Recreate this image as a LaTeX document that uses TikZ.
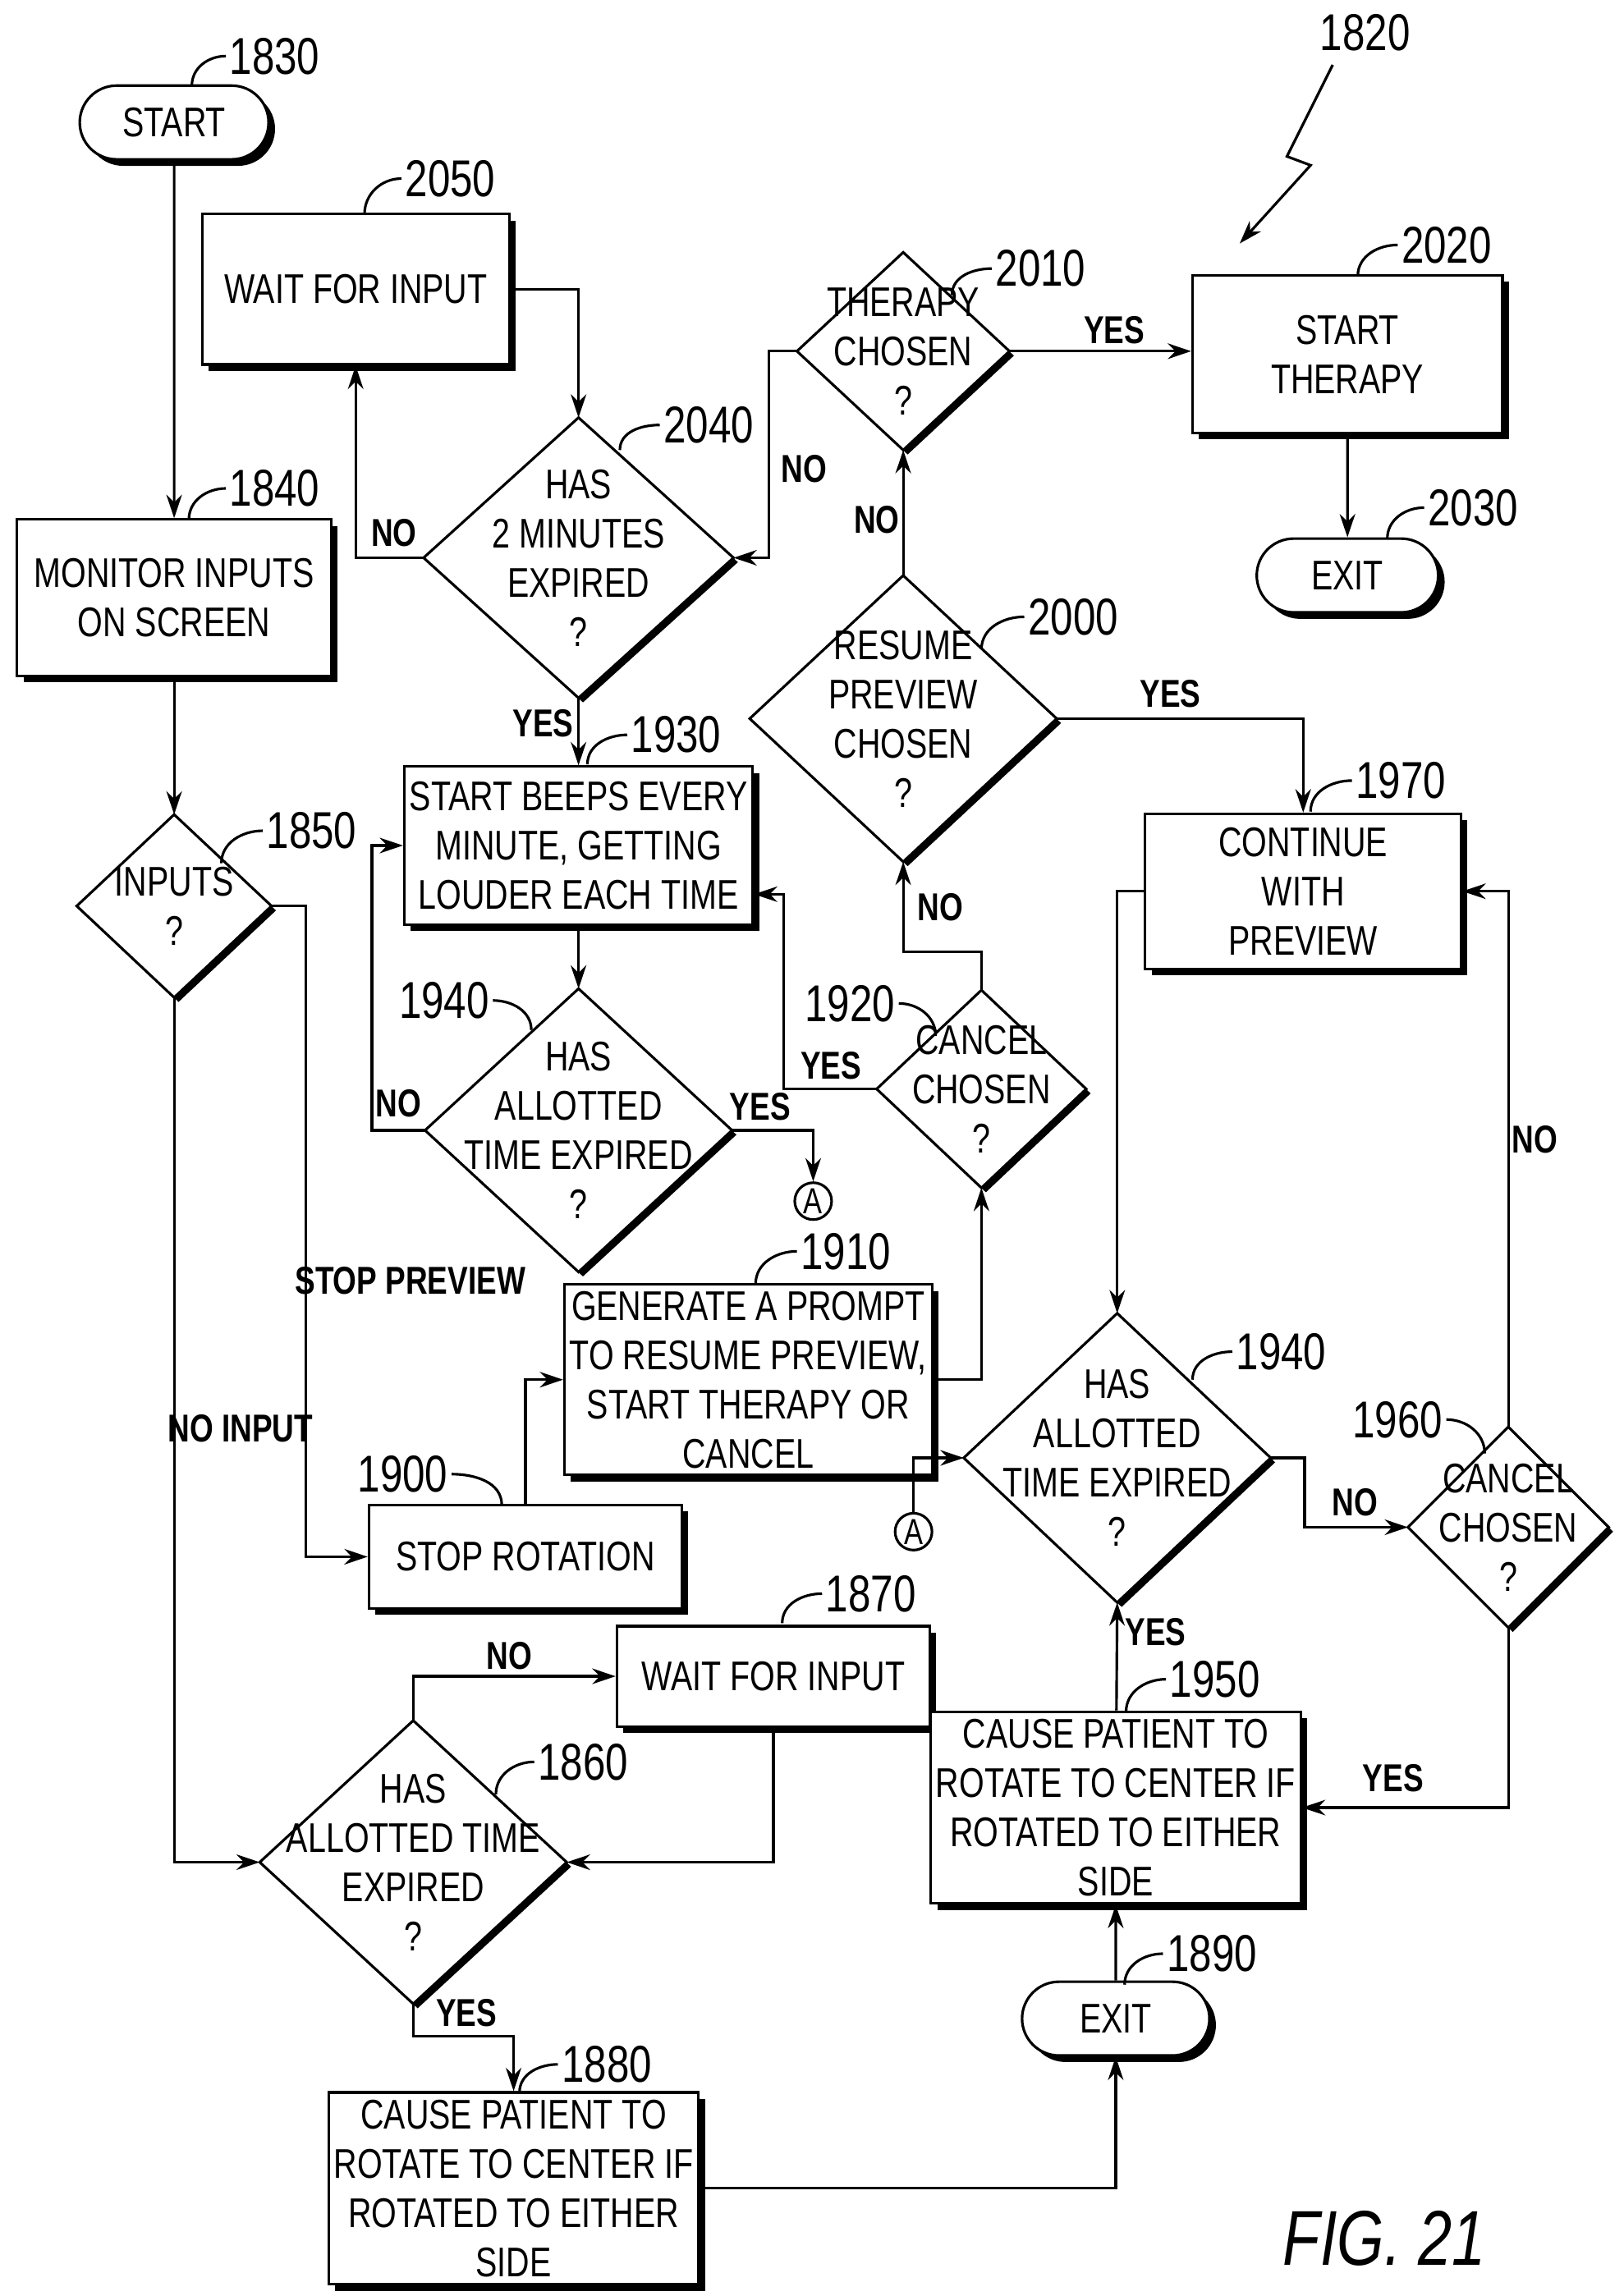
\documentclass[tikz,border=0pt]{standalone}
\usepackage{fontspec}
\setmainfont{Liberation Sans}[FakeStretch=0.78]
\usetikzlibrary{arrows.meta,shapes.misc,shadows,positioning}

\tikzset{
  every picture/.style={x=0.02cm,y=-0.02cm,line width=1pt},
  flow/.style={-{Stealth[length=9pt,width=6pt]}},
  box/.style={draw,fill=white,drop shadow={opacity=1,fill=black,shadow xshift=2.5pt,shadow yshift=-2.5pt},
    align=center,font=\fontsize{16}{19}\selectfont,inner sep=2pt},
  term/.style={box,rounded rectangle},
  txt/.style={font=\fontsize{16}{19}\selectfont,align=center},
  yn/.style={font=\bfseries\fontsize{15}{18}\selectfont},
  refnum/.style={font=\fontsize{20}{24}\selectfont,inner sep=1pt},
  conn/.style={draw,circle,inner sep=0pt,minimum size=0.5cm,font=\fontsize{14}{16}\selectfont}
}
% box: name, x, y, width, height, text
\newcommand\bx[6]{\node[box,minimum width={#4*0.02cm},minimum height={#5*0.02cm}] (#1) at (#2,#3) {#6};}
% diamond: name, x, y, half width, half height, text
\newcommand\dia[6]{%
  \fill ({#2+3},{#3-#5+3}) -- ({#2+#4+3},{#3+3}) -- ({#2+3},{#3+#5+3}) -- ({#2-#4+3},{#3+3}) -- cycle;
  \filldraw[fill=white] (#2,{#3-#5}) -- ({#2+#4},#3) -- (#2,{#3+#5}) -- ({#2-#4},#3) -- cycle;
  \coordinate (#1-n) at (#2,{#3-#5});
  \coordinate (#1-s) at (#2,{#3+#5});
  \coordinate (#1-e) at ({#2+#4},#3);
  \coordinate (#1-w) at ({#2-#4},#3);
  \node[txt] (#1) at (#2,#3) {#6};}
% reference number with curved leader: from, to, text
\newcommand\refup[3]{\draw (#1) to[out=90,in=180] (#2) node[refnum,anchor=west] {#3};}
\newcommand\refdown[3]{\draw (#2) to[out=0,in=90] (#1); \node[refnum,anchor=east] at (#2) {#3};}

\begin{document}
\begin{tikzpicture}
\useasboundingbox (0,0) rectangle (1100,1556);

% terminals and boxes
\node[term,minimum width=2.7cm,minimum height=1cm] (start) at (118,83) {START};
\bx{wait1}{241}{196}{208}{102}{WAIT FOR INPUT}
\bx{therapy}{913}{240}{210}{107}{START\\THERAPY}
\node[term,minimum width=2.6cm,minimum height=1cm] (exit1) at (913,390) {EXIT};
\bx{monitor}{118}{405}{213}{106}{MONITOR INPUTS\\ON SCREEN}
\bx{beeps}{392}{573}{212}{107}{START BEEPS EVERY\\MINUTE, GETTING\\LOUDER EACH TIME}
\bx{cont}{883}{604}{214}{105}{CONTINUE\\WITH\\PREVIEW}
\bx{prompt}{507}{935}{213}{129}{GENERATE A PROMPT\\TO RESUME PREVIEW,\\START THERAPY OR\\CANCEL}
\bx{stoprot}{356}{1055}{212}{70}{STOP ROTATION}
\bx{wait2}{524}{1136}{212}{68}{WAIT FOR INPUT}
\bx{cause1}{756}{1225}{211}{130}{CAUSE PATIENT TO\\ROTATE TO CENTER IF\\ROTATED TO EITHER\\SIDE}
\node[term,minimum width=2.68cm,minimum height=1cm] (exit2) at (756,1368) {EXIT};
\bx{cause2}{348}{1483}{220}{130}{CAUSE PATIENT TO\\ROTATE TO CENTER IF\\ROTATED TO EITHER\\SIDE}

% decisions
\dia{q2040}{392}{378}{105}{95}{HAS\\2 MINUTES\\EXPIRED\\?}
\dia{q2010}{612}{238}{72}{67}{THERAPY\\CHOSEN\\?}
\dia{q2000}{612}{487}{104}{97}{RESUME\\PREVIEW\\CHOSEN\\?}
\dia{q1850}{118}{614}{66}{62}{INPUTS\\?}
\dia{q1940a}{392}{766}{104}{96}{HAS\\ALLOTTED\\TIME EXPIRED\\?}
\dia{q1920}{665}{738}{71}{67}{CANCEL\\CHOSEN\\?}
\dia{q1940b}{757}{988}{104}{98}{HAS\\ALLOTTED\\TIME EXPIRED\\?}
\dia{q1960}{1022}{1035}{68}{68}{CANCEL\\CHOSEN\\?}
\dia{q1860}{280}{1262}{104}{96}{HAS\\ALLOTTED TIME\\EXPIRED\\?}

\node[conn] (a1) at (551,814) {A};
\node[conn] (a2) at (619,1038) {A};

% connectors
\draw[flow] (start) -- (monitor);
\draw[flow] (monitor) -- (q1850-n);
\draw[flow] (q1850-e) -| (207,900) |- (stoprot.west);
\draw[flow] (q1850-s) |- (q1860-w);
\draw[flow] (stoprot.north) |- (prompt.west);
\draw[flow] (prompt.east) -| (q1920-s);
\draw[flow] (q1920-n) -- (665,645) -| (q2000-s);
\draw[flow] (q1920-w) -| (531,650) |- (beeps.east |- 0,606);
\draw[flow] (q2000-n) -- (q2010-s);
\draw[flow] (q2000-e) -| (cont.north);
\draw[flow] (q2010-e) -- (therapy.west |- q2010-e);
\draw[flow] (q2010-w) -| (521,300) |- (q2040-e);
\draw[flow] (wait1.east |- 0,196) -| (q2040-n);
\draw[flow] (q2040-w) -| (wait1.south);
\draw[flow] (q2040-s) -- (beeps.north);
\draw[flow] (therapy) -- (exit1);
\draw[flow] (beeps) -- (q1940a-n);
\draw[flow] (q1940a-w) -| (252,650) |- (beeps.west);
\draw[flow] (q1940a-e) -| (a1);
\draw[flow] (a2) |- (q1940b-w);
\draw[flow] (q1940b-e) -| (884,1010) |- (q1960-w);
\draw[flow] (q1960-n) |- (cont.east);
\draw[flow] (q1960-s) |- (cause1.east);
\draw[flow] (cont.west) -| (q1940b-n);
\draw[flow] (cause1) -- (q1940b-s);
\draw[flow] (exit2) -- (cause1);
\draw[flow] (cause2.east) -| (exit2.south);
\draw[flow] (q1860-s) -- (280,1380) -| (cause2.north);
\draw[flow] (q1860-n) |- (wait2.west);
\draw[flow] (wait2.south) |- (q1860-e);

% branch labels
\node[yn] at (278,868) {STOP PREVIEW};
\node[yn] at (163,968) {NO INPUT};
\node[yn] at (563,722) {YES};
\node[yn] at (637,615) {NO};
\node[yn] at (594,352) {NO};
\node[yn] at (793,470) {YES};
\node[yn] at (755,224) {YES};
\node[yn] at (545,318) {NO};
\node[yn] at (267,361) {NO};
\node[yn] at (368,490) {YES};
\node[yn] at (270,748) {NO};
\node[yn] at (515,750) {YES};
\node[yn] at (918,1018) {NO};
\node[yn] at (1040,772) {NO};
\node[yn] at (944,1205) {YES};
\node[yn] at (783,1106) {YES};
\node[yn] at (316,1364) {YES};
\node[yn] at (345,1122) {NO};

% reference numbers
\refup{130,58}{153,38}{1830}
\refup{247,145}{272,121}{2050}
\refup{420,305}{447,288}{2040}
\refup{645,200}{672,182}{2010}
\refup{920,187}{947,166}{2020}
\refup{940,365}{965,344}{2030}
\refup{128,352}{153,331}{1840}
\refup{665,440}{694,418}{2000}
\refup{150,585}{178,563}{1850}
\refup{398,518}{425,498}{1930}
\refup{888,550}{916,529}{1970}
\refup{512,870}{540,848}{1910}
\refup{808,935}{835,916}{1940}
\refup{530,1100}{557,1080}{1870}
\refup{336,1216}{362,1194}{1860}
\refup{763,1160}{790,1138}{1950}
\refup{762,1345}{788,1324}{1890}
\refup{352,1418}{378,1399}{1880}
\refdown{360,698}{334,678}{1940}
\refdown{634,702}{609,680}{1920}
\refdown{1006,985}{980,962}{1960}
\refdown{340,1020}{306,999}{1900}

% figure pointer
\node[refnum] (fignum) at (925,22) {1820};
\draw[flow] (903,44) -- (872,106) -- (888,112) -- (840,165);

\node[font=\fontsize{30}{34}\selectfont\itshape] (figlabel) at (938,1517) {FIG. 21};
\end{tikzpicture}
\end{document}
